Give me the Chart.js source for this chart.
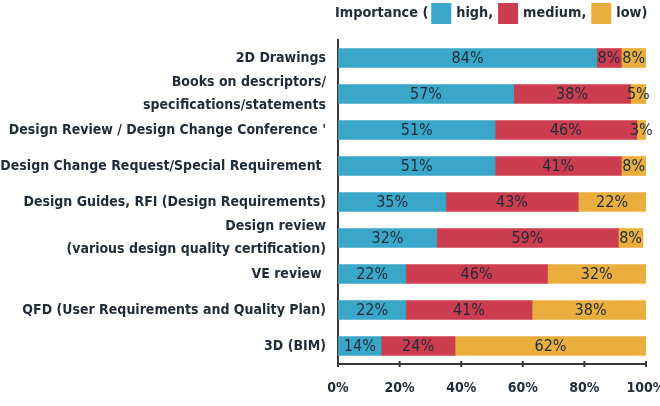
<!DOCTYPE html>
<html>
<head>
<meta charset="utf-8">
<script src="https://cdn.jsdelivr.net/npm/chart.js@4/dist/chart.umd.min.js"></script>
<style>
  html, body { margin: 0; padding: 0; background: #fff; }
  #wrap { width: 660px; height: 406px; position: relative; }
</style>
</head>
<body>
<div id="wrap"><canvas id="importance-chart"></canvas></div>
<script>
// Categories, top to bottom
const categories = [
    "2D Drawings",
    ["Books on descriptors/", "specifications/statements"],
    "Design Review / Design Change Conference '",
    "Design Change Request/Special Requirement ",
    "Design Guides, RFI (Design Requirements)",
    ["Design review", "(various design quality certification)"],
    "VE review ",
    "QFD (User Requirements and Quality Plan)",
    "3D (BIM)",
];

const highValues   = [84, 57, 51, 51, 35, 32, 22, 22, 14];
const mediumValues = [8, 38, 46, 41, 43, 59, 46, 41, 24];
const lowValues    = [8, 5, 3, 8, 22, 8, 32, 38, 62];

const seriesLabels = ["high,", "medium,", "low)"];
const legendPrefix = "Importance (";
const xTicks = [0, 20, 40, 60, 80, 100];

const COLORS = ["#3aa7c9", "#cc3d50", "#e9ae3c"];
const TEXT = "#1f2b38";
const FONT = "'DejaVu Sans Condensed', 'DejaVu Sans', sans-serif";

// Percent labels centred in each segment
const segmentLabels = {
    id: "segmentLabels",
    afterDatasetsDraw(chart) {
        const ctx = chart.ctx;
        ctx.save();
        ctx.font = `16px ${FONT}`;
        ctx.fillStyle = TEXT;
        ctx.textAlign = "center";
        ctx.textBaseline = "middle";
        chart.data.datasets.forEach((ds, di) => {
            const meta = chart.getDatasetMeta(di);
            meta.data.forEach((bar, i) => {
                const v = ds.data[i];
                if (!v) return;
                const { x, y, base } = bar.getProps(["x", "y", "base"], true);
                ctx.fillText(v + "%", (x + base) / 2, y + 1);
            });
        });
        ctx.restore();
    },
};

// Inline legend: "Importance ( [] high, [] medium, [] low)"
const inlineLegend = {
    id: "inlineLegend",
    afterDraw(chart) {
        const ctx = chart.ctx;
        ctx.save();
        ctx.font = `bold 14.3px ${FONT}`;
        ctx.fillStyle = TEXT;
        ctx.textBaseline = "middle";
        const cy = 13;
        let x = 335;
        ctx.fillText(legendPrefix, x, cy);
        x += ctx.measureText(legendPrefix).width + 3;
        seriesLabels.forEach((lbl, i) => {
            ctx.fillStyle = COLORS[i];
            ctx.fillRect(x, cy - 10, 20, 21);
            x += 25;
            ctx.fillStyle = TEXT;
            ctx.fillText(lbl, x, cy);
            x += ctx.measureText(lbl).width + 5;
        });
        ctx.restore();
    },
};

// Small tick marks crossing the x axis line
const crossTicks = {
    id: "crossTicks",
    afterDraw(chart) {
        const xs = chart.scales.x;
        const ctx = chart.ctx;
        const yb = chart.chartArea.bottom;
        ctx.save();
        ctx.strokeStyle = "#3a3a3a";
        ctx.lineWidth = 2;
        xs.ticks.forEach(t => {
            const px = xs.getPixelForValue(t.value);
            ctx.beginPath();
            ctx.moveTo(px, yb - 3);
            ctx.lineTo(px, yb + 3);
            ctx.stroke();
        });
        ctx.restore();
    },
};

function makeDataset(label, data, color) {
    return {
        label,
        data,
        backgroundColor: color,
        borderWidth: 0,
        barThickness: 19,
    };
}

function initChart() {
    const canvas = document.getElementById("importance-chart");
    new Chart(canvas, {
        type: "bar",
        data: {
            labels: categories,
            datasets: [
                makeDataset(seriesLabels[0], highValues, COLORS[0]),
                makeDataset(seriesLabels[1], mediumValues, COLORS[1]),
                makeDataset(seriesLabels[2], lowValues, COLORS[2]),
            ],
        },
        plugins: [segmentLabels, inlineLegend, crossTicks],
        options: {
            indexAxis: "y",
            responsive: true,
            maintainAspectRatio: false,
            animation: false,
            layout: { padding: { top: 40, right: 14, bottom: 0, left: 0 } },
            plugins: {
                legend: { display: false },
                tooltip: { enabled: false },
            },
            scales: {
                x: {
                    stacked: true,
                    min: 0,
                    max: 100,
                    afterBuildTicks: s => { s.ticks = xTicks.map(v => ({ value: v })); },
                    afterFit: s => { s.height = 42; s.paddingLeft = 0; s.paddingRight = 0; },
                    ticks: {
                        callback: v => v + "%",
                        color: TEXT,
                        font: { family: FONT, size: 14, weight: "bold" },
                        padding: 16,
                        maxRotation: 0,
                        autoSkip: false,
                    },
                    grid: { drawOnChartArea: false, drawTicks: false },
                    border: { color: "#3a3a3a", width: 2 },
                },
                y: {
                    stacked: true,
                    afterFit: s => { s.width = 338; },
                    ticks: {
                        color: TEXT,
                        font: { family: FONT, size: 14, weight: "bold", lineHeight: 1.65 },
                        padding: 12,
                        autoSkip: false,
                    },
                    grid: { display: false, drawTicks: false },
                    border: { color: "#3a3a3a", width: 2 },
                },
            },
        },
    });
}

if (document.readyState === "loading") {
    document.addEventListener("DOMContentLoaded", initChart);
} else {
    initChart();
}
</script>
</body>
</html>
